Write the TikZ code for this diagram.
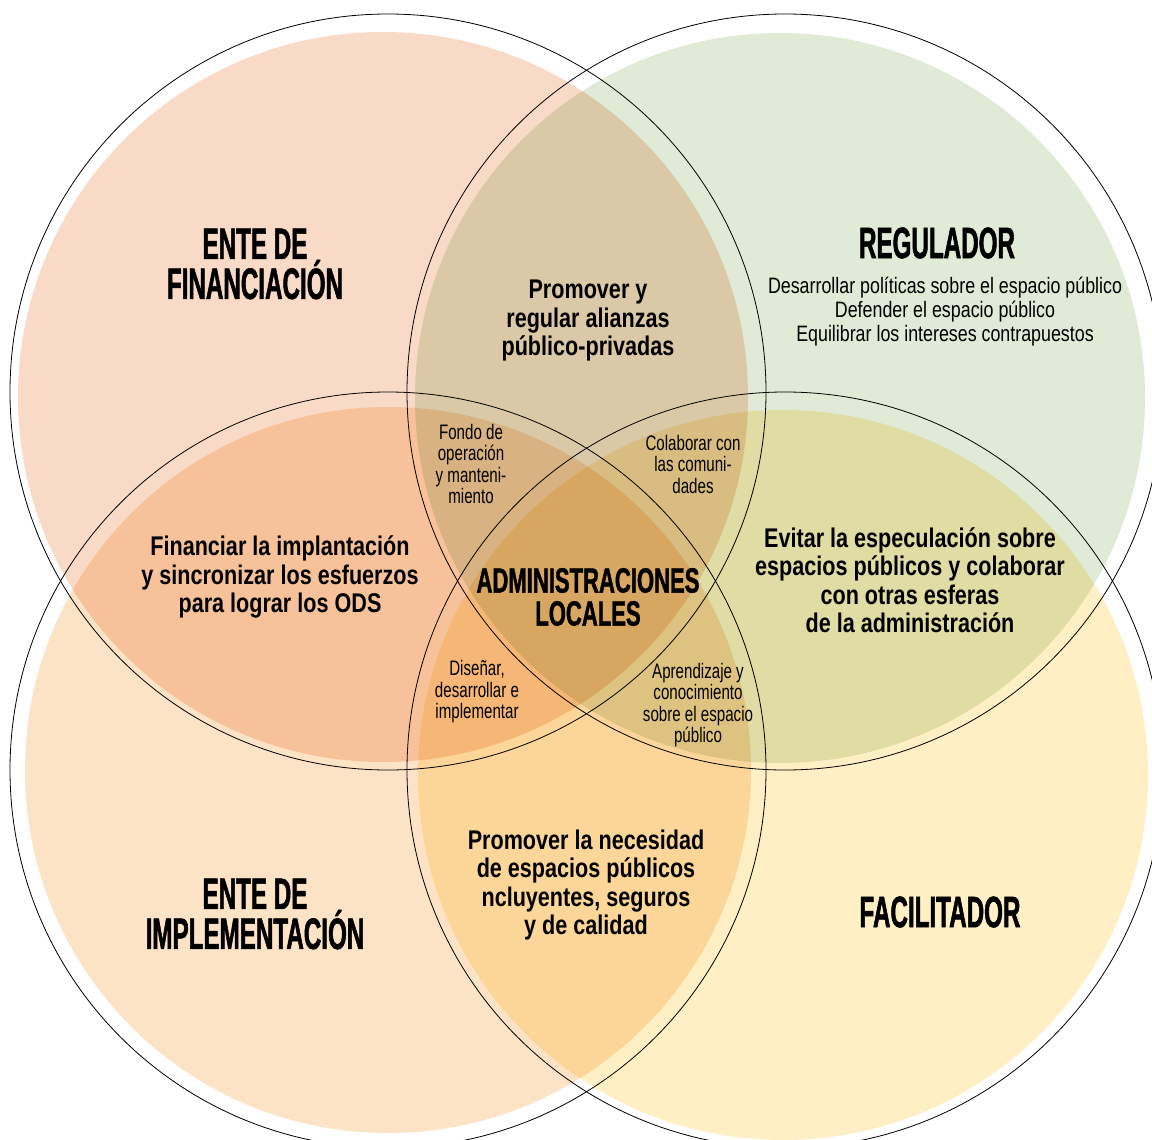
\documentclass[tikz,border=0pt]{standalone}
\usepackage{fontspec}
\setmainfont{Liberation Sans}
\newfontfamily\headfont[FakeStretch=0.55, FakeBold=1.2]{Liberation Sans}
\newfontfamily\corefont[FakeStretch=0.63, FakeBold=1.2]{Liberation Sans}
\newfontfamily\condfont[FakeStretch=0.8]{Liberation Sans}
\newfontfamily\smallfont[FakeStretch=0.72]{Liberation Sans}
\definecolor{financ}{HTML}{F9DAC6}
\definecolor{regul}{HTML}{E0EAD6}
\definecolor{implem}{HTML}{FDE3C6}
\definecolor{facil}{HTML}{FEF0C4}

\begin{document}
\begin{tikzpicture}[x=1pt, y=-1pt,
    ring/.style={draw=black, line width=0.8pt},
    title/.style={font=\headfont\bfseries\fontsize{44}{40}\selectfont, align=center},
    role/.style={font=\condfont\bfseries\fontsize{27}{28.5}\selectfont, align=center},
    note/.style={font=\condfont\fontsize{22.3}{24}\selectfont, align=center},
    task/.style={font=\smallfont\fontsize{21}{21.5}\selectfont, align=center}]
    \useasboundingbox (0,0) rectangle (1152,1140);
    \clip (0,0) rectangle (1152,1140);
    \fill[white] (0,0) rectangle (1152,1140);

    \begin{scope}[blend mode=multiply]
        \fill[financ] (383,397) circle[radius=365pt];
        \fill[regul] (780,398) circle[radius=365pt];
        \fill[implem] (388,770) circle[radius=363pt];
        \fill[facil] (783,775) circle[radius=365pt];
    \end{scope}

    \draw[ring] (388,392) circle[radius=378pt];
    \draw[ring] (785,392) circle[radius=378pt];
    \draw[ring] (388,770) circle[radius=378pt];
    \draw[ring] (785,770) circle[radius=378pt];

    \node[title] (fin) at (255,264) {ENTE DE\\FINANCIACIÓN};
    \node[title] (reg) at (937,243) {REGULADOR};
    \node[note] (regtxt) at (945,312) {Desarrollar políticas sobre el espacio público\\Defender el espacio público\\Equilibrar los intereses contrapuestos};
    \node[title] (imp) at (255,914) {ENTE DE\\IMPLEMENTACIÓN};
    \node[title] (fac) at (940,912) {FACILITADOR};
    \node[title, font=\corefont\bfseries\fontsize{35}{33}\selectfont] (adm) at (588,597) {ADMINISTRACIONES\\LOCALES};

    \node[role] (alianzas) at (588,321) {Promover y\\regular alianzas\\público-privadas};
    \node[role] (ods) at (280,577) {Financiar la implantación\\y sincronizar los esfuerzos\\para lograr los ODS};
    \node[role] (especul) at (910,580) {Evitar la especulación sobre\\espacios públicos y colaborar\\con otras esferas\\de la administración};
    \node[role] (calidad) at (586,885) {Promover la necesidad\\de espacios públicos\\ncluyentes, seguros\\y de calidad};

    \node[task] (fondo) at (471,464) {Fondo de\\operación\\y manteni-\\miento};
    \node[task] (comun) at (693,464) {Colaborar con\\las comuni-\\dades};
    \node[task] (disen) at (477,692) {Diseñar,\\desarrollar e\\implementar};
    \node[task] (aprend) at (698,705) {Aprendizaje y\\conocimiento\\sobre el espacio\\público};
\end{tikzpicture}
\end{document}
